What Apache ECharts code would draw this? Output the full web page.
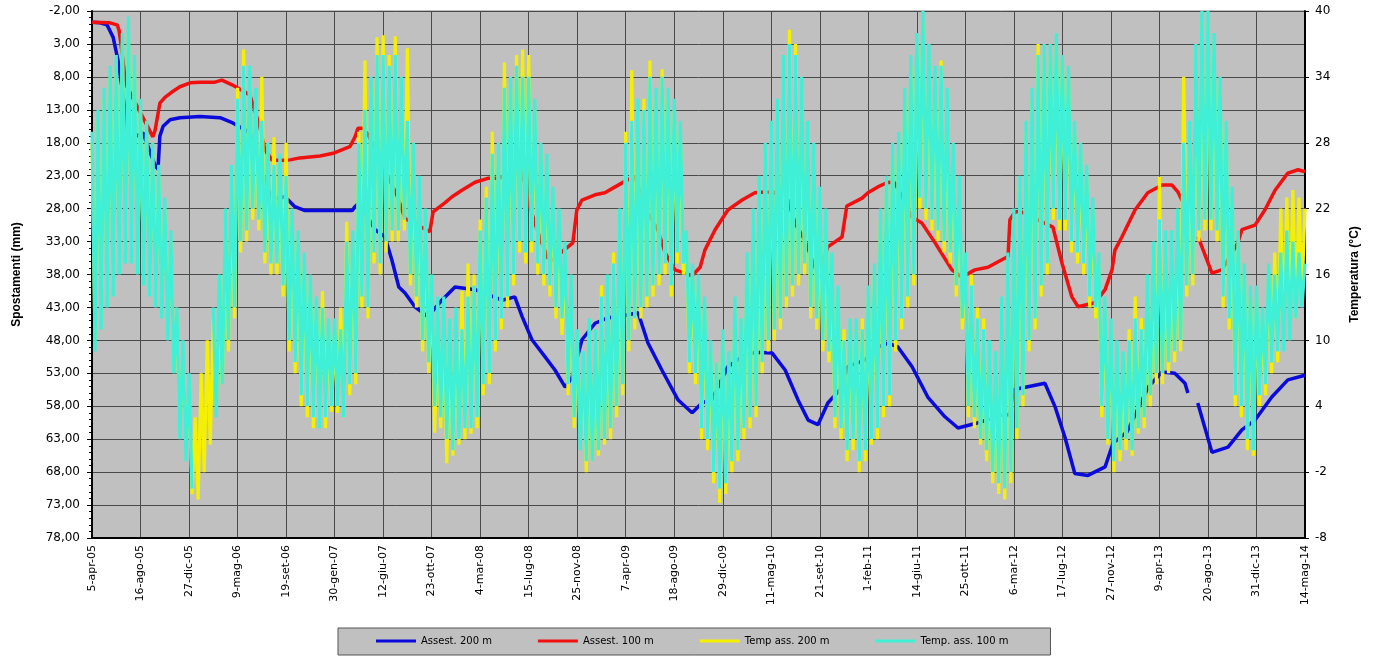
<!DOCTYPE html>
<html>
<head>
<meta charset="utf-8">
<script src="https://cdn.jsdelivr.net/npm/echarts@6/dist/echarts.min.js"></script>
<style>
html,body{margin:0;padding:0;background:#ffffff;}
#chart{width:1379px;height:656px;}
</style>
</head>
<body>
<div id="chart"></div>
<script>
// ---- tick labels (x axis: one every 133 days from 5-apr-05) ----
const xTickLabels = ["5-apr-05","16-ago-05","27-dic-05","9-mag-06","19-set-06","30-gen-07","12-giu-07","23-ott-07","4-mar-08","15-lug-08","25-nov-08","7-apr-09","18-ago-09","29-dic-09","11-mag-10","21-set-10","1-feb-11","14-giu-11","25-ott-11","6-mar-12","17-lug-12","27-nov-12","9-apr-13","20-ago-13","31-dic-13","14-mag-14"];
const tickStepDays = 133;

// ---- settlements (mm), [day since 5-apr-05, value] ----
const assest200 = [[0,-0.3],[22,-0.2],[41,0.1],[58,2.0],[71,5.4],[82,9.5],[90,13.0],[99,17.6],[140,16.5],[173,21.5],[181,22],[186,17],[195,15.5],[214,14.5],[241,14.2],[296,14.0],[351,14.2],[386,15],[433,16.5],[458,21.1],[493,26.7],[529,26.2],[556,27.7],[584,28.3],[713,28.3],[721,27.7],[732,27.1],[776,31.2],[803,32.3],[822,35.8],[841,39.9],[858,40.8],[885,42.9],[921,44.4],[959,41.9],[995,39.9],[1050,40.3],[1124,41.9],[1159,41.4],[1179,44.4],[1206,47.9],[1242,50.5],[1269,52.5],[1297,55.1],[1316,53.6],[1343,47.9],[1379,45.4],[1414,44.6],[1469,44.1],[1497,43.8],[1524,48.4],[1562,52.5],[1606,57.0],[1645,59.0],[1672,57.5],[1699,57.0],[1743,52.0],[1782,50.5],[1817,49.8],[1864,49.9],[1900,52.5],[1935,57.0],[1963,60.1],[1990,60.8],[2017,57.5],[2050,55.5],[2072,52.0],[2119,51.0],[2154,49.0],[2182,48.4],[2209,49.0],[2248,52.0],[2291,56.6],[2338,59.6],[2374,61.3],[2429,60.5],[2494,59.3],[2516,59.3],[2525,55.5],[2612,54.5],[2640,58.1],[2667,62.7],[2694,68.2],[2730,68.5],[2777,67.2],[2799,63.6],[2837,61.9],[2895,55.1],[2933,52.8],[2968,53.0],[2996,54.5],[3004,56.0],[3017,null],[3031,57.5],[3070,65.0],[3114,64.2],[3152,61.6],[3188,60.1],[3234,56.6],[3278,54.0],[3325,53.3]];

const assest100 = [[0,-0.3],[49,-0.2],[69,0.1],[74,0.9],[79,2.9],[88,7.0],[96,9.5],[167,17.1],[173,16.1],[186,12.0],[200,11.1],[219,10.3],[241,9.5],[269,8.9],[296,8.8],[337,8.8],[356,8.5],[384,9.2],[419,10.3],[433,10.8],[460,15.6],[474,19.1],[493,20.6],[515,20.7],[543,20.6],[570,20.3],[625,20.0],[661,19.6],[688,19.0],[707,18.6],[721,17.1],[729,15.8],[743,15.8],[757,16.8],[836,26.0],[858,29.5],[926,31.5],[935,28.5],[968,27.1],[987,26.2],[1014,25.2],[1050,24.0],[1085,23.4],[1113,23.4],[1179,22.1],[1195,26.7],[1214,30.2],[1233,33.2],[1250,35.5],[1261,35.8],[1318,33.2],[1329,28.2],[1343,26.7],[1379,25.9],[1406,25.6],[1434,24.7],[1469,23.6],[1488,23.2],[1524,28.7],[1551,31.2],[1571,34.7],[1598,37.3],[1625,37.8],[1645,38.2],[1667,36.9],[1680,34.3],[1708,31.2],[1743,28.2],[1782,26.7],[1817,25.6],[1836,25.5],[1867,25.5],[1908,26.7],[1927,30.2],[1954,32.8],[1982,36.9],[1990,38.4],[2017,33.8],[2056,32.3],[2069,27.6],[2111,26.4],[2127,25.6],[2154,24.7],[2182,24.0],[2201,24.1],[2248,29.3],[2275,30.2],[2311,33.2],[2357,37.3],[2385,38.4],[2420,37.3],[2456,36.9],[2503,35.5],[2511,35.3],[2516,29.7],[2530,28.5],[2544,28.4],[2634,30.8],[2659,36.3],[2686,41.4],[2703,42.9],[2749,42.3],[2777,40.3],[2796,37.3],[2804,34.3],[2823,32.3],[2859,28.2],[2894,25.6],[2933,24.4],[2960,24.4],[2977,25.5],[3001,28.2],[3016,null],[3032,32.3],[3070,37.8],[3097,37.3],[3141,33.2],[3152,31.2],[3188,30.5],[3215,28.2],[3243,25.2],[3278,22.6],[3306,22.1],[3325,22.4]];

// ---- temperatures (°C), sampled every 133/16 days from 5-apr-05 ----
const tempStepDays = 133 / 16;
const temp200 = [
28,10,30,12,32,14,34,15,35,17,37,18,38,18,35,17,
31,16,29,15,27,14,25,13,22,11,19,8,12,2,9,0,
6,-4,3,-4.5,7,-2,10,0.5,12,4,13,6,21,9,25,12,
33,18,36.5,19,34,21,32,20,34,17,27,16,28.5,16,26,14,
28,9,21,7,19,4,17,3,15,2,13,2.5,14.5,2,11,3.5,
11,3.4,13,3,20.8,5,19,6,29,13,35.5,12,33,17,37.6,16,
37.8,18,36,19,37.7,19,33,20,36.6,15,27,13,24,9,21,7,
15,1.6,13,2,13,-1.2,11,-0.5,12,0.5,14.5,1,17,1.5,16,2,
21,5,24,6,29,9,27,11,35.3,13,33,15,36,18,36.5,17,
36,18,31,16,27,15,26,14,23,12,21,10.5,18,5,15,2,
10,1.6,8,-2,11,-1,10,-0.5,15,0.5,15,1,18,3,21,5,
29,9,34.6,11,31,12,32,13,35.5,14,32,15,34.7,16,32,14,
31,17,29,16,19,7,16,6,15,1,13,0,9,-3,8,-4.8,
10,-4,8,-2,13,-1,11,1,17,2,21,3,24,7,27,9,
29,10,31,11,35,13,38.3,14,37,15,33,16,29,12,27,11,
23,9,21,8,17,2,14,1,11,-1,11,0,11,-2,12,-1,
14,0.5,16,1,21,3,24,4,27,9,28,11,32,13,35,15,
37,22,39,21,35.7,20,34,19,35.5,18,32,17,27,14,24,11,
17,3,16,2,13,0.5,12,-1,9,-3,8,-4,13,-4.5,17,-3,
21,1,24,4,29,9,32,11,37,14,36,16,36,21,37,20,
35.5,20,34,18,29,17,27,16,25,13,22,12,17,3,13,0.5,
11,-2,9,-1,8,0,11,-0.5,14,1.5,12,2,15,4,18,6,
24.9,6,19,7,19,8,21,9,34,14,29,15,36,19,39,20,
39,20,37,19,33,13,29,11,23,4,19,3,16,0,14,-0.5,
14,4,12,5,16,7,18,8,22,10,23,11,23.7,12,23,14,
22];
const temp100 = [
29,9,31,11,33,13,35,14,36,16,38,17,39.5,17,36,16,
32,15,30,14,28,13,26,12,23,10,20,7,13,1,10,-1,
7,-3.5,null,null,null,null,null,null,13,3,16,6,22,10,26,13,
32,19,35,20,35,22,33,21,30,18,28,17,26,17,27,15,
25,10,22,8,20,5,18,4,16,3,14,2,13,3,12,4,
12,4,11,3,19,6,20,7,28,14,31,13,34,18,36,17,
36,19,35,20,36,20,34,21,30,16,28,14,25,10,22,8,
16,4,14,3,14,1,12,0,13,1,11,2,14,2,15,3,
20,6,23,7,27,10,28,12,33,14,34,16,35,19,34,18,
34,19,32,17,28,16,27,15,24,13,22,12,19,6,16,3,
11,0,9,-1,12,-1,11,0,14,1,16,2,17,4,22,6,
28,10,30,12,32,13,31,14,34,15,33,16,34,17,33,15,
32,18,30,17,20,8,17,7,16,2,14,1,10,-2,8,-3.5,
11,-3,9,-1,14,0,12,2,18,3,22,4,25,8,28,10,
30,11,32,12,36,14,37,15,36,16,34,17,30,13,28,12,
24,10,22,9,18,3,15,2,10,0,12,1,12,-1,11,0,
15,1,17,2,22,4,25,5,28,10,29,12,33,14,36,16,
38,23,40,22,37,21,35,20,35,19,33,18,28,15,25,12,
18,4,15,3,12,1,11,0,10,-2,9,-3,14,-3.5,18,-2,
22,2,25,5,30,10,33,12,36,15,37,17,37,22,38,21,
36,21,35,19,30,18,28,17,26,14,23,13,18,4,14,1,
12,-1,10,0,9,1,10,0,12,2,11,3,16,5,19,7,
21,7,20,8,20,9,22,10,28,15,30,16,37,20,40,21,
40,21,38,20,34,14,30,12,24,5,20,4,17,1,15,0,
15,5,13,6,17,8,16,9,18,9,20,10,19,12,18,13,
17];

const seriesNames = ["Assest. 200 m", "Assest. 100 m", "Temp ass. 200 m", "Temp. ass. 100 m"];

function onTempGrid(values) {
  return values.map((v, i) => [i * tempStepDays, v]);
}
function fmtMm(v) { return v.toFixed(2).replace('.', ','); }

const chart = echarts.init(document.getElementById('chart'), null, {renderer: 'canvas'});
const labelFont = 'DejaVu Sans';
chart.setOption({
  animation: false,
  backgroundColor: '#ffffff',
  grid: {
    left: 92, right: 74, top: 11, bottom: 118,
    show: true, backgroundColor: '#c0c0c0', borderColor: '#808080', borderWidth: 1,
    containLabel: false, outerBoundsMode: 'none'
  },
  legend: {
    left: 338, top: 628,
    padding: [8, 42, 9, 38],
    itemGap: 46, itemWidth: 40, itemHeight: 3, icon: 'rect',
    backgroundColor: '#c0c0c0', borderColor: '#555555', borderWidth: 1, borderRadius: 0,
    textStyle: {fontFamily: labelFont, fontSize: 10, color: '#000000'},
    data: seriesNames
  },
  xAxis: {
    type: 'value', min: 0, max: tickStepDays * (xTickLabels.length - 1), interval: tickStepDays,
    axisLine: {show: true, onZero: false, lineStyle: {color: '#000000', width: 2}},
    axisTick: {show: false},
    splitLine: {show: true, lineStyle: {color: '#4a4a4a', width: 1}},
    axisLabel: {
      rotate: 90, margin: 7, fontFamily: labelFont, fontSize: 11, color: '#000000',
      showMinLabel: true, showMaxLabel: true,
      formatter: (v) => xTickLabels[Math.round(v / tickStepDays)] || ''
    }
  },
  yAxis: [
    {
      type: 'value', position: 'left', inverse: true, min: -2, max: 78, interval: 5,
      name: 'Spostamenti (mm)', nameLocation: 'middle', nameGap: 69, nameRotate: 90,
      nameTextStyle: {fontFamily: 'Liberation Sans', fontWeight: 'bold', fontSize: 12, color: '#000000'},
      axisLine: {show: true, lineStyle: {color: '#000000', width: 2}},
      axisTick: {show: true, length: 5, lineStyle: {color: '#000000'}},
      minorTick: {show: true, splitNumber: 5, length: 3, lineStyle: {color: '#000000'}},
      splitLine: {show: true, lineStyle: {color: '#4a4a4a', width: 1}},
      axisLabel: {margin: 12, fontFamily: labelFont, fontSize: 12, color: '#000000', formatter: fmtMm}
    },
    {
      type: 'value', position: 'right', min: -8, max: 40, interval: 6,
      name: 'Temperatura (°C)', nameLocation: 'middle', nameGap: 44, nameRotate: 90,
      nameTextStyle: {fontFamily: 'Liberation Sans', fontWeight: 'bold', fontSize: 12, color: '#000000'},
      axisLine: {show: true, lineStyle: {color: '#000000', width: 2}},
      axisTick: {show: true, length: 4, lineStyle: {color: '#000000'}},
      splitLine: {show: false},
      axisLabel: {margin: 10, fontFamily: labelFont, fontSize: 12, color: '#000000'}
    }
  ],
  series: [
    {name: seriesNames[0], type: 'line', yAxisIndex: 0, data: assest200, showSymbol: false, symbol: 'none',
     connectNulls: false, color: '#0a0adc', lineStyle: {color: '#0a0adc', width: 3.5}},
    {name: seriesNames[1], type: 'line', yAxisIndex: 0, data: assest100, showSymbol: false, symbol: 'none',
     connectNulls: false, color: '#f01010', lineStyle: {color: '#f01010', width: 3.5}},
    {name: seriesNames[2], type: 'line', yAxisIndex: 1, data: onTempGrid(temp200), showSymbol: false, symbol: 'none',
     connectNulls: false, color: '#f4f000', lineStyle: {color: '#f4f000', width: 3.2, join: 'bevel'}},
    {name: seriesNames[3], type: 'line', yAxisIndex: 1, data: onTempGrid(temp100), showSymbol: false, symbol: 'none',
     connectNulls: false, color: '#3ff0d6', lineStyle: {color: '#3ff0d6', width: 3.2, join: 'bevel'}}
  ]
});
</script>
</body>
</html>
